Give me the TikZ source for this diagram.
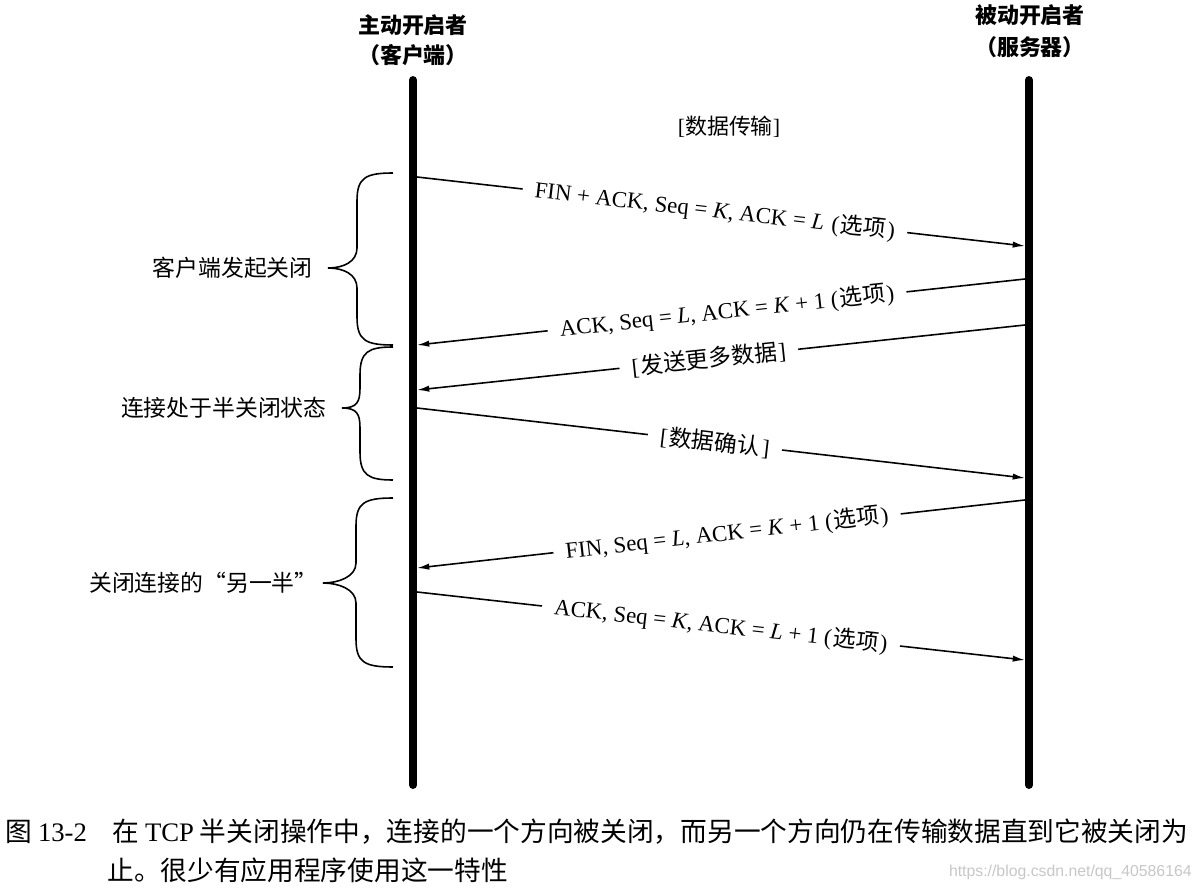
\documentclass[tikz,border=0pt]{standalone}
\usepackage{fontspec}
\setmainfont{Noto Sans CJK SC}
\newfontfamily\tms{Liberation Serif}
\newfontfamily\cjk{Noto Sans CJK SC}
\newfontfamily\wmfont{Liberation Sans}
\usetikzlibrary{arrows.meta}
\newcommand\opt{(\kern0.8pt{\cjk 选项}\kern0.8pt)}
\begin{document}
\begin{tikzpicture}[x=0.02cm,y=-0.02cm,
  life/.style={line width=4.5pt,line cap=round},
  msg/.style={line width=0.9pt,-{Latex[length=7pt,width=3.6pt]}},
  lbl/.style={sloped,fill=white,inner xsep=7pt,inner ysep=0pt,font=\tms\fontsize{13}{14}\selectfont},
  hdr/.style={inner sep=0pt,font=\bfseries\fontsize{12.5}{14}\selectfont},
  side/.style={anchor=east,inner sep=0pt,font=\fontsize{13}{15}\selectfont},
  capt/.style={anchor=west,inner sep=0pt,font=\fontsize{15.2}{17}\selectfont},
  brc/.style={line width=0.9pt}]
\useasboundingbox (0,0) rectangle (1198,892);

% headers
\node[hdr] (h1a) at (413,25) {主动开启者};
\node[hdr] (h1b) at (413,55) {（客户端）};
\node[hdr] (h2a) at (1030,15) {被动开启者};
\node[hdr] (h2b) at (1030,47) {（服务器）};

% lifelines
\coordinate (Ltop) at (413,80);
\coordinate (Lbot) at (413,785);
\coordinate (Rtop) at (1029,80);
\coordinate (Rbot) at (1029,785);
\draw[life] (Ltop) -- (Lbot);
\draw[life] (Rtop) -- (Rbot);

\node[inner sep=0pt,font=\fontsize{12.5}{14}\selectfont] (dt) at (729,127) {{\tms[}数据传输{\tms]}};

% message end points
\coordinate (a1) at (417,177); \coordinate (b1) at (1025,246);
\coordinate (b2) at (1025,279); \coordinate (a2) at (417,345);
\coordinate (b3) at (1025,325); \coordinate (a3) at (417,390);
\coordinate (a4) at (417,408); \coordinate (b4) at (1025,478);
\coordinate (b5) at (1025,500); \coordinate (a5) at (417,568);
\coordinate (a6) at (417,592); \coordinate (b6) at (1025,660);

\draw[msg] (a1) -- node[lbl,pos=0.49] (m1) {FIN + ACK, Seq = \textit{K}, ACK = \textit{L}\kern1pt{} \opt} (b1);
\draw[msg] (b2) -- node[lbl,pos=0.49] (m2) {ACK, Seq = \textit{L}, ACK = \textit{K} + 1 \opt} (a2);
\draw[msg] (b3) -- node[lbl,pos=0.52] (m3) {[\kern0.8pt{\cjk 发送更多数据}\kern0.8pt]} (a3);
\draw[msg] (a4) -- node[lbl,pos=0.49] (m4) {[\kern0.8pt{\cjk 数据确认}\kern1.2pt]} (b4);
\draw[msg] (b5) -- node[lbl,pos=0.49] (m5) {FIN, Seq = \textit{L}, ACK = \textit{K} + 1 \opt} (a5);
\draw[msg] (a6) -- node[lbl,pos=0.5] (m6) {ACK, Seq = \textit{K}, ACK = \textit{L} + 1 \opt} (b6);

% braces
\foreach \yt/\yb/\ym/\xs/\xt in {173/345/268/357/328, 347/480/408/360/342, 498/667/583/356/323}{
  \draw[brc] (393,\yt) .. controls (\xs+8,\yt) and (\xs,\yt+5) .. (\xs,\yt+28)
    -- (\xs,\ym-20) .. controls (\xs,\ym-6) and (\xt+15,\ym) .. (\xt,\ym)
    .. controls (\xt+15,\ym) and (\xs,\ym+6) .. (\xs,\ym+20)
    -- (\xs,\yb-28) .. controls (\xs,\yb-5) and (\xs+8,\yb) .. (393,\yb);
}
\node[side] (s1) at (313,268) {客户端发起关闭};
\node[side] (s2) at (327,408) {连接处于半关闭状态};
\node[side] (s3) at (318,583) {关闭连接的“另一半”};

% caption
\node[capt] (c0) at (5,832) {图 {\tms 13-2}};
\node[capt] (c1) at (112,832) {在 {\tms TCP} 半关闭操作中，连接的一个方向被关闭，而另一个方向仍在传输数据直到它被关闭为};
\node[capt] (c2) at (107,870) {止。很少有应用程序使用这一特性};
\node[anchor=east,inner sep=0pt,text=black!22,font=\wmfont\fontsize{9}{10}\selectfont] (wm) at (1192,872) {https://blog.csdn.net/qq\_40586164};
\end{tikzpicture}
\end{document}
